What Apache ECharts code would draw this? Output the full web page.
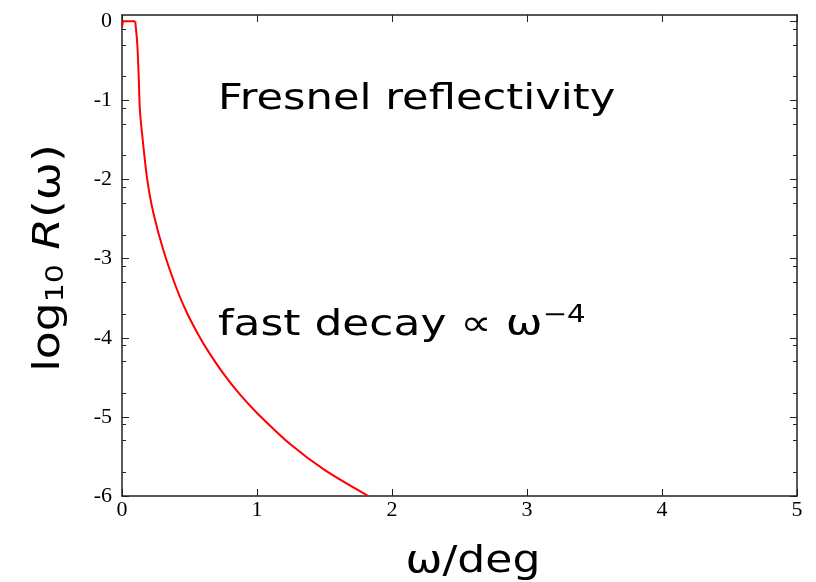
<!DOCTYPE html>
<html>
<head>
<meta charset="utf-8">
<script src="https://cdn.jsdelivr.net/npm/echarts@6/dist/echarts.min.js"></script>
<style>
  html, body { margin: 0; padding: 0; background: #fff; }
  #chart { width: 816px; height: 582px; }
</style>
</head>
<body>
<div id="chart"></div>
<script>
// plateau below the critical angle
var plateauX = [0, 0.007, 0.098];
var plateauY = [-0.075, 0, 0];
// decay part
var decayX = [0.098, 0.113, 0.124, 0.133, 0.156, 0.187, 0.232, 0.306, 0.405, 0.48, 0.578, 0.65, 0.75, 0.87, 1.0, 1.25, 1.5, 1.825];
var decayY = [0, -0.28, -0.71, -1.13, -1.54, -2.0, -2.42, -2.89, -3.38, -3.68, -4.0, -4.2, -4.45, -4.71, -4.95, -5.35, -5.67, -6.0];

var xTicks = [0, 1, 2, 3, 4, 5];
var yTicks = [-6, -5, -4, -3, -2, -1, 0];
var yMinorTicks = [];
yTicks.forEach(function (t) {
  if (t > -6) {
    [-0.097, -0.301, -0.699].forEach(function (d) { yMinorTicks.push(t + d); });
  }
});

function pairs(xs, ys) {
  return xs.map(function (x, i) { return [x, ys[i]]; });
}

var axisColor = "#222";
var tickFont = "Liberation Serif";
var textFont = "DejaVu Sans";

function yAxisDef(pos, major, labels) {
  return {
    type: "value",
    position: pos,
    min: -6,
    max: 0.08,
    axisLine: { show: major, lineStyle: { color: axisColor, width: 1.5 } },
    axisTick: {
      show: true,
      inside: true,
      length: major ? 7 : 4,
      customValues: major ? yTicks : yMinorTicks,
      lineStyle: { color: axisColor, width: 1 }
    },
    axisLabel: {
      show: labels,
      customValues: yTicks,
      margin: 10,
      fontFamily: tickFont,
      fontSize: 22,
      color: "#000"
    },
    splitLine: { show: false }
  };
}

function xAxisDef(pos, labels) {
  return {
    type: "value",
    position: pos,
    min: 0,
    max: 5,
    interval: 1,
    axisLine: { show: true, onZero: false, lineStyle: { color: axisColor, width: 1.5 } },
    axisTick: { show: true, inside: true, length: 7, lineStyle: { color: axisColor, width: 1 } },
    axisLabel: {
      show: labels,
      margin: 3,
      fontFamily: tickFont,
      fontSize: 22,
      color: "#000",
      showMinLabel: true,
      showMaxLabel: true
    },
    splitLine: { show: false }
  };
}

var chart = echarts.init(document.getElementById("chart"), null, { renderer: "canvas" });

var option = {
  animation: false,
  backgroundColor: "#fff",
  grid: { left: 122, right: 19, top: 15, bottom: 86, containLabel: false },
  xAxis: [xAxisDef("bottom", true), xAxisDef("top", false)],
  yAxis: [
    yAxisDef("left", true, true),
    yAxisDef("left", false, false),
    yAxisDef("right", true, false),
    yAxisDef("right", false, false)
  ],
  series: [
    {
      type: "line",
      data: pairs(plateauX, plateauY),
      showSymbol: false,
      lineStyle: { color: "#f00", width: 2 },
      xAxisIndex: 0,
      yAxisIndex: 0
    },
    {
      type: "line",
      data: pairs(decayX, decayY),
      showSymbol: false,
      smooth: 0.3,
      lineStyle: { color: "#f00", width: 2 },
      xAxisIndex: 0,
      yAxisIndex: 0
    }
  ],
  graphic: [
    {
      type: "text",
      x: 218,
      y: 100,
      scaleX: 1.2,
      style: {
        text: "Fresnel reflectivity",
        font: "36px '" + textFont + "'",
        fill: "#000",
        verticalAlign: "middle"
      }
    },
    {
      type: "text",
      x: 218,
      y: 326,
      scaleX: 1.22,
      style: {
        text: "fast decay \u221D \u03C9{sup|\u22124}",
        fill: "#000",
        fontFamily: textFont,
        fontSize: 36,
        verticalAlign: "middle",
        rich: {
          sup: { fontFamily: textFont, fontSize: 24, verticalAlign: "top", lineHeight: 44 }
        }
      }
    },
    {
      type: "text",
      x: 473,
      y: 562,
      scaleX: 1.16,
      style: {
        text: "\u03C9/deg",
        fontFamily: textFont,
        fontSize: 38,
        fill: "#000",
        align: "center",
        verticalAlign: "middle"
      }
    },
    {
      type: "text",
      x: 49,
      y: 258,
      rotation: Math.PI / 2,
      scaleX: 1.2,
      style: {
        text: "log{sub|10} {it|R}(\u03C9)",
        fontFamily: textFont,
        fontSize: 38,
        fill: "#000",
        align: "center",
        verticalAlign: "middle",
        rich: {
          sub: { fontFamily: textFont, fontSize: 25, verticalAlign: "bottom", lineHeight: 40 },
          it: { fontFamily: textFont, fontSize: 38, fontStyle: "italic" }
        }
      }
    }
  ]
};

chart.setOption(option);
</script>
</body>
</html>
